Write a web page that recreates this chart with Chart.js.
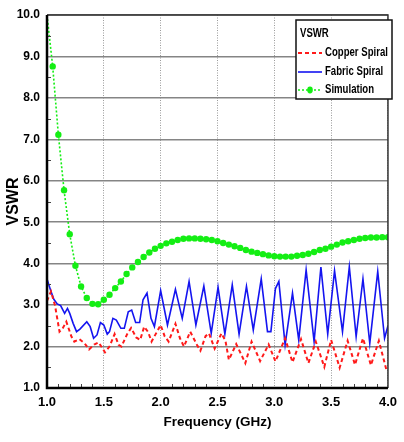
<!DOCTYPE html>
<html><head><meta charset="utf-8">
<script src="https://cdn.jsdelivr.net/npm/chart.js@4.4.0/dist/chart.umd.min.js"></script>
<style>html,body{margin:0;padding:0;background:#fff;}#wrap{width:404px;height:442px;}</style>
</head><body><div id="wrap"><canvas id="c" width="404" height="442"></canvas></div>
<script>
const FONT = "'Liberation Sans',Arial,sans-serif";

const seriesNames = ["Copper Spiral", "Fabric Spiral", "Simulation"];
const legendTitle = "VSWR";
const xTitle = "Frequency (GHz)";
const yTitle = "VSWR";

const copperFreq = [1.0,1.035,1.07,1.11,1.14,1.17,1.215,1.24,1.285,1.33,1.37,1.415,1.455,1.51,1.55,1.595,1.63,1.655,1.705,1.74,1.785,1.82,1.855,1.89,1.92,2.0,2.035,2.07,2.13,2.17,2.205,2.26,2.32,2.35,2.395,2.425,2.475,2.535,2.57,2.60,2.665,2.745,2.80,2.875,2.95,3.01,3.095,3.16,3.235,3.30,3.365,3.44,3.50,3.575,3.645,3.71,3.78,3.85,3.92,3.985,4.0];
const copperVswr = [3.10,3.33,3.00,2.36,2.45,2.60,2.24,2.12,2.18,2.08,1.93,2.05,2.10,1.86,2.00,2.30,2.04,2.00,2.30,2.45,2.22,2.16,2.48,2.35,2.12,2.52,2.25,2.12,2.55,2.20,2.00,2.36,2.04,1.90,2.25,2.32,1.95,2.32,2.14,1.68,2.06,1.60,2.12,1.65,2.05,1.64,2.20,1.62,2.18,1.60,2.12,1.51,2.16,1.49,2.14,1.56,2.20,1.55,2.14,1.45,1.50];

const fabricFreq = [1.0,1.03,1.06,1.09,1.12,1.155,1.18,1.20,1.23,1.26,1.29,1.35,1.38,1.41,1.44,1.47,1.50,1.53,1.55,1.58,1.61,1.65,1.68,1.715,1.745,1.78,1.815,1.845,1.88,1.915,1.945,2.00,2.06,2.13,2.19,2.25,2.31,2.38,2.445,2.505,2.565,2.63,2.69,2.755,2.815,2.885,2.94,2.97,3.01,3.04,3.095,3.16,3.215,3.28,3.35,3.41,3.47,3.53,3.60,3.66,3.72,3.78,3.84,3.91,3.97,4.0];
const fabricVswr = [3.63,3.37,3.14,3.03,2.99,2.80,2.92,2.80,2.56,2.36,2.42,2.60,2.48,2.20,2.28,2.58,2.52,2.30,2.36,2.68,2.64,2.44,2.44,2.84,2.88,2.58,2.58,3.13,3.29,2.68,2.48,3.35,2.52,3.38,2.68,3.57,2.52,3.46,2.32,3.43,2.30,3.49,2.30,3.45,2.40,3.63,2.36,2.36,3.40,3.57,2.04,3.29,2.16,3.85,2.12,3.92,2.30,3.83,2.36,3.92,2.24,3.63,2.08,3.81,2.20,2.50];

const simFreq = [1.00,1.05,1.10,1.15,1.20,1.25,1.30,1.35,1.40,1.45,1.50,1.55,1.60,1.65,1.70,1.75,1.80,1.85,1.90,1.95,2.00,2.05,2.10,2.15,2.20,2.25,2.30,2.35,2.40,2.45,2.50,2.55,2.60,2.65,2.70,2.75,2.80,2.85,2.90,2.95,3.00,3.05,3.10,3.15,3.20,3.25,3.30,3.35,3.40,3.45,3.50,3.55,3.60,3.65,3.70,3.75,3.80,3.85,3.90,3.95,4.00];
const simVswr = [10.0,8.76,7.11,5.77,4.71,3.95,3.45,3.17,3.03,3.02,3.13,3.25,3.41,3.57,3.75,3.91,4.04,4.16,4.27,4.36,4.43,4.49,4.53,4.57,4.60,4.61,4.61,4.60,4.59,4.57,4.54,4.50,4.46,4.42,4.38,4.33,4.29,4.26,4.23,4.20,4.18,4.17,4.17,4.17,4.19,4.21,4.24,4.28,4.33,4.36,4.41,4.46,4.51,4.54,4.57,4.60,4.62,4.63,4.63,4.64,4.64];

const xTicks = [1.0,1.5,2.0,2.5,3.0,3.5,4.0];
const yTicks = [1,2,3,4,5,6,7,8,9,10];

const zip = (xs, ys) => xs.map((x, i) => ({x, y: ys[i]}));
const RED = '#ff1a1a', BLUE = '#1414f0', GREEN = '#14ee14';

const extras = {
  id: 'extras',
  afterDraw(chart) {
    const ctx = chart.ctx, a = chart.chartArea;
    const xs = chart.scales.x, ys = chart.scales.y;
    ctx.save();
    // minor ticks
    ctx.strokeStyle = '#444'; ctx.lineWidth = 1;
    ctx.beginPath();
    for (let k = 11; k < 40; k++) {
      if (k % 5 === 0) continue;
      const px = Math.round(xs.getPixelForValue(k / 10)) + 0.5;
      ctx.moveTo(px, a.bottom); ctx.lineTo(px, a.bottom - 4);
    }
    for (let k = 3; k < 20; k += 2) {
      const py = Math.round(ys.getPixelForValue(k / 2)) + 0.5;
      ctx.moveTo(a.left, py); ctx.lineTo(a.left + 4, py);
    }
    ctx.stroke();
    // frame
    ctx.strokeStyle = '#333'; ctx.lineWidth = 1.5;
    ctx.beginPath();
    ctx.moveTo(a.left, a.top); ctx.lineTo(a.right, a.top); ctx.lineTo(a.right, a.bottom);
    ctx.stroke();
    ctx.strokeStyle = '#000'; ctx.lineWidth = 2.5;
    ctx.beginPath();
    ctx.moveTo(a.left, a.top); ctx.lineTo(a.left, a.bottom); ctx.lineTo(a.right, a.bottom);
    ctx.stroke();
    // legend
    const bx = 296, by = 20, bw = 96, bh = 79;
    ctx.fillStyle = '#fff'; ctx.fillRect(bx, by, bw, bh);
    ctx.strokeStyle = '#111'; ctx.lineWidth = 1.5; ctx.strokeRect(bx, by, bw, bh);
    ctx.fillStyle = '#000';
    ctx.font = 'bold 12px ' + FONT;
    ctx.textBaseline = 'middle'; ctx.textAlign = 'left';
    const condensed = (txt, x, y) => {
      ctx.save(); ctx.translate(x, y); ctx.scale(0.8, 1.05); ctx.fillText(txt, 0, 0); ctx.restore();
    };
    condensed(legendTitle, bx + 4, by + 14);
    const rows = [by + 33, by + 52, by + 70];
    chart.data.datasets.forEach((ds, i) => {
      const y = rows[i];
      ctx.strokeStyle = ds.borderColor; ctx.lineWidth = ds.borderWidth;
      ctx.setLineDash(ds.borderDash || []);
      ctx.beginPath(); ctx.moveTo(bx + 2, y); ctx.lineTo(bx + 26, y); ctx.stroke();
      ctx.setLineDash([]);
      if (ds.label === 'Simulation') {
        ctx.fillStyle = ds.pointBackgroundColor;
        ctx.beginPath(); ctx.ellipse(bx + 14, y, 2.8, 3.4, 0, 0, Math.PI * 2); ctx.fill();
      }
      ctx.fillStyle = '#000';
      condensed(ds.label, bx + 29, y);
    });
    ctx.restore();
  }
};

new Chart(document.getElementById('c'), {
  type: 'line',
  data: {
    datasets: [
      { label: seriesNames[0], data: zip(copperFreq, copperVswr), borderColor: RED, borderWidth: 2, borderDash: [4, 3], pointRadius: 0, tension: 0, fill: false },
      { label: seriesNames[1], data: zip(fabricFreq, fabricVswr), borderColor: BLUE, borderWidth: 1.6, pointRadius: 0, tension: 0, fill: false },
      { label: seriesNames[2], data: zip(simFreq, simVswr), borderColor: GREEN, borderWidth: 1.6, borderDash: [2, 2], pointRadius: c => c.dataIndex === 0 ? 0 : 3.2, pointBackgroundColor: GREEN, pointBorderWidth: 0, tension: 0, fill: false }
    ]
  },
  options: {
    responsive: false, animation: false, devicePixelRatio: 1,
    layout: { padding: { top: 15, right: 9, left: 0, bottom: 0 } },
    plugins: { legend: { display: false }, tooltip: { enabled: false } },
    scales: {
      x: {
        type: 'linear', min: 1, max: 4,
        afterBuildTicks: s => { s.ticks = xTicks.map(v => ({value: v})); },
        afterFit: s => { s.height = 54; },
        ticks: { callback: v => Number(v).toFixed(1), color: '#000', font: { family: FONT, size: 13, weight: 'bold' }, padding: 7, maxRotation: 0 },
        grid: { color: '#9a9a9a', lineWidth: 1, drawTicks: false },
        border: { display: false, dash: [1, 1.5] },
        title: { display: true, text: xTitle, color: '#000', font: { family: FONT, size: 13.5, weight: 'bold' }, padding: { top: 4, bottom: 12 } }
      },
      y: {
        type: 'linear', min: 1, max: 10,
        afterBuildTicks: s => { s.ticks = yTicks.map(v => ({value: v})); },
        afterFit: s => { s.width = 47; },
        ticks: { callback: v => Number(v).toFixed(1), color: '#000', font: { family: FONT, size: 12, weight: 'bold' }, padding: 7 },
        grid: { color: '#858585', lineWidth: 1.5, drawTicks: false },
        border: { display: false },
        title: { display: true, text: yTitle, color: '#000', font: { family: FONT, size: 16, weight: 'bold' }, padding: { top: 4, bottom: 4 } }
      }
    }
  },
  plugins: [extras]
});
</script></body></html>
